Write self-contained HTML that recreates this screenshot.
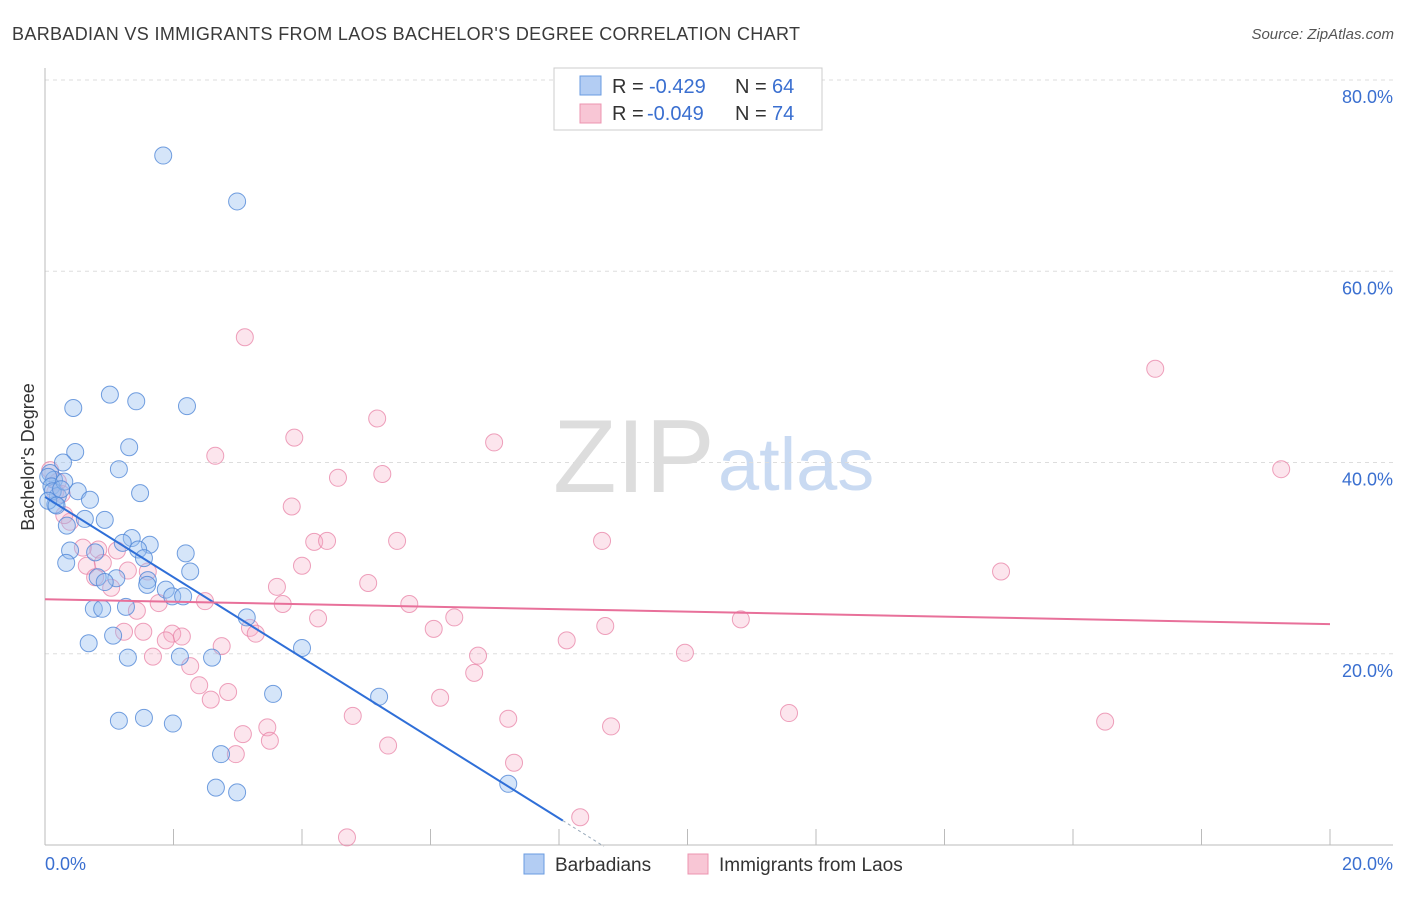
<!DOCTYPE html>
<html><head><meta charset="utf-8"><style>
body{margin:0;background:#fff;font-family:"Liberation Sans",sans-serif;}
svg text{font-family:"Liberation Sans",sans-serif;}
</style></head><body>
<svg width="1406" height="892">
<text x="12" y="40" font-size="18" fill="#3a3a3a" textLength="788">BARBADIAN VS IMMIGRANTS FROM LAOS BACHELOR'S DEGREE CORRELATION CHART</text>
<text x="1394" y="39" font-size="15" fill="#555" font-style="italic" text-anchor="end">Source: ZipAtlas.com</text>
<text x="553" y="492" font-size="104" fill="#ddd" font-family="Liberation Serif">ZIP</text>
<text x="718" y="490" font-size="74" fill="#c9daf2">atlas</text>
<g id="grid"></g><g id="axes"></g><g id="pts"></g><g id="trend"></g>
<text transform="translate(34,457) rotate(-90)" font-size="18" fill="#333" text-anchor="middle">Bachelor's Degree</text>
<g>
<rect x="554" y="68" width="268" height="62" fill="#fff" stroke="#ccc"/>
<rect x="580" y="76" width="21" height="19" fill="#b3cdf3" stroke="#6a9be0"/>
<rect x="580" y="104" width="21" height="19" fill="#f8c6d5" stroke="#ec94b0"/>
<text x="612" y="93" font-size="20" fill="#333">R =</text>
<text x="649" y="93" font-size="20" fill="#3a6fd0">-0.429</text>
<text x="735" y="93" font-size="20" fill="#333">N =</text>
<text x="772" y="93" font-size="20" fill="#3a6fd0">64</text>
<text x="612" y="120" font-size="20" fill="#333">R =</text>
<text x="647" y="120" font-size="20" fill="#3a6fd0">-0.049</text>
<text x="735" y="120" font-size="20" fill="#333">N =</text>
<text x="772" y="120" font-size="20" fill="#3a6fd0">74</text>
</g>
<g>
<rect x="524" y="854" width="20" height="20" fill="#b3cdf3" stroke="#6a9be0"/>
<text x="555" y="871" font-size="19" fill="#333">Barbadians</text>
<rect x="688" y="854" width="20" height="20" fill="#f8c6d5" stroke="#ec94b0"/>
<text x="719" y="871" font-size="19" fill="#333">Immigrants from Laos</text>
</g>
</svg>
<script>
const yTicks=[20,40,60,80];
const yTickLabels=["20.0%","40.0%","60.0%","80.0%"];
const blueX=[1.84,2.99,1.01,1.42,0.44,2.21,1.31,0.47,0.28,1.15,0.08,0.14,0.51,1.48,0.70,0.16,0.93,0.62,0.34,1.35,1.21,1.63,1.45,0.39,0.78,2.19,1.54,0.33,2.26,0.82,1.11,1.60,0.93,1.59,1.88,1.98,2.15,1.26,0.76,0.89,3.14,1.06,0.68,4.0,1.29,2.10,2.60,3.55,5.20,1.15,1.54,1.99,2.74,2.66,2.99,7.21,0.05,0.1,0.2,0.12,0.3,0.05,0.18,0.25];
const blueY=[72.1,67.3,47.1,46.4,45.7,45.9,41.6,41.1,40.0,39.3,38.9,38.2,37.0,36.8,36.1,35.6,34.0,34.1,33.4,32.1,31.6,31.4,30.9,30.8,30.6,30.5,30.0,29.5,28.6,28.0,27.9,27.7,27.5,27.2,26.7,26.0,26.0,24.9,24.7,24.7,23.8,21.9,21.1,20.6,19.6,19.7,19.6,15.8,15.5,13.0,13.3,12.7,9.5,6.0,5.5,6.4,38.5,37.5,36.5,37.0,38.0,36.0,35.5,37.2];
const pinkX=[3.11,17.28,5.17,3.88,6.99,2.65,19.24,5.25,4.56,0.08,0.2,0.16,0.26,3.84,0.39,5.48,4.19,4.39,8.67,0.59,0.83,1.12,0.9,0.65,4.0,1.29,1.6,0.78,14.88,5.03,3.61,1.03,2.49,1.77,3.7,5.67,1.43,4.25,6.37,10.83,3.19,6.05,8.72,1.23,1.53,3.28,1.98,2.13,1.88,2.75,8.12,1.68,6.74,9.96,2.26,6.68,2.40,2.85,2.58,6.15,11.58,4.79,7.21,16.5,3.46,8.81,3.08,3.5,5.34,2.97,7.3,8.33,4.70,0.3];
const pinkY=[53.1,49.8,44.6,42.6,42.1,40.7,39.3,38.8,38.4,39.2,38.0,36.9,36.7,35.4,33.8,31.8,31.7,31.8,31.8,31.1,30.9,30.8,29.5,29.2,29.2,28.7,28.6,28.0,28.6,27.4,27.0,26.9,25.5,25.3,25.2,25.2,24.5,23.7,23.8,23.6,22.7,22.6,22.9,22.3,22.3,22.1,22.1,21.8,21.4,20.8,21.4,19.7,19.8,20.1,18.7,18.0,16.7,16.0,15.2,15.4,13.8,13.5,13.2,12.9,12.3,12.4,11.6,10.9,10.4,9.5,8.6,2.9,0.8,34.5];
const blueTrend=[36.4,-4.2];
const pinkTrend=[25.7,-0.13];
const X=v=>45+v*64.25, Y=v=>845-v*9.5625;
const NS="http://www.w3.org/2000/svg";
function mk(t,a,p){const e=document.createElementNS(NS,t);for(const k in a)e.setAttribute(k,a[k]);p.appendChild(e);return e;}
const grid=document.getElementById('grid'),axes=document.getElementById('axes'),pts=document.getElementById('pts'),tr=document.getElementById('trend');
yTicks.forEach((t,i)=>{
 const l=mk('line',{x1:45,x2:1393,y1:Y(t),y2:Y(t),stroke:'#ddd','stroke-dasharray':'4,4'},grid);
 
 
 const tx=mk('text',{x:1393,y:Y(t)+23,'font-size':18,fill:'#3a6fd0','text-anchor':'end'},grid);
 tx.textContent=yTickLabels[i];
 
 
});
let a=mk('line',{x1:45,x2:45,y1:68,y2:845,stroke:'#bbb'},axes);


a=mk('line',{x1:45,x2:1393,y1:845,y2:845,stroke:'#bbb'},axes);


for(let i=1;i<=10;i++){const t=mk('line',{x1:X(i*2),x2:X(i*2),y1:829,y2:845,stroke:'#bbb'},axes);
 
 }
let xl=mk('text',{x:45,y:870,'font-size':18,fill:'#3a6fd0'},axes);xl.textContent='0.0%';


xl=mk('text',{x:1393,y:870,'font-size':18,fill:'#3a6fd0','text-anchor':'end'},axes);xl.textContent='20.0%';


pinkX.forEach((x,i)=>{const c=mk('circle',{cx:X(x),cy:Y(pinkY[i]),r:8.5,fill:'rgba(244,170,195,0.3)',stroke:'rgba(232,130,165,0.75)','stroke-width':1},pts);
 
 });
blueX.forEach((x,i)=>{const c=mk('circle',{cx:X(x),cy:Y(blueY[i]),r:8.5,fill:'rgba(150,190,240,0.4)',stroke:'rgba(80,135,215,0.8)','stroke-width':1},pts);
 
 });
const bEnd=8.06, bDash=8.7;
let ln=mk('line',{x1:X(0),y1:Y(blueTrend[0]),x2:X(bEnd),y2:Y(blueTrend[0]+blueTrend[1]*bEnd),stroke:'#2f6fd8','stroke-width':2},tr);


ln=mk('line',{x1:X(bEnd),y1:Y(blueTrend[0]+blueTrend[1]*bEnd),x2:X(bDash),y2:Y(blueTrend[0]+blueTrend[1]*bDash),stroke:'#9ab','stroke-width':1,'stroke-dasharray':'3,3'},tr);


ln=mk('line',{x1:X(0),y1:Y(pinkTrend[0]),x2:X(20),y2:Y(pinkTrend[0]+pinkTrend[1]*20),stroke:'#e8709a','stroke-width':2},tr);


</script>
</body></html>
